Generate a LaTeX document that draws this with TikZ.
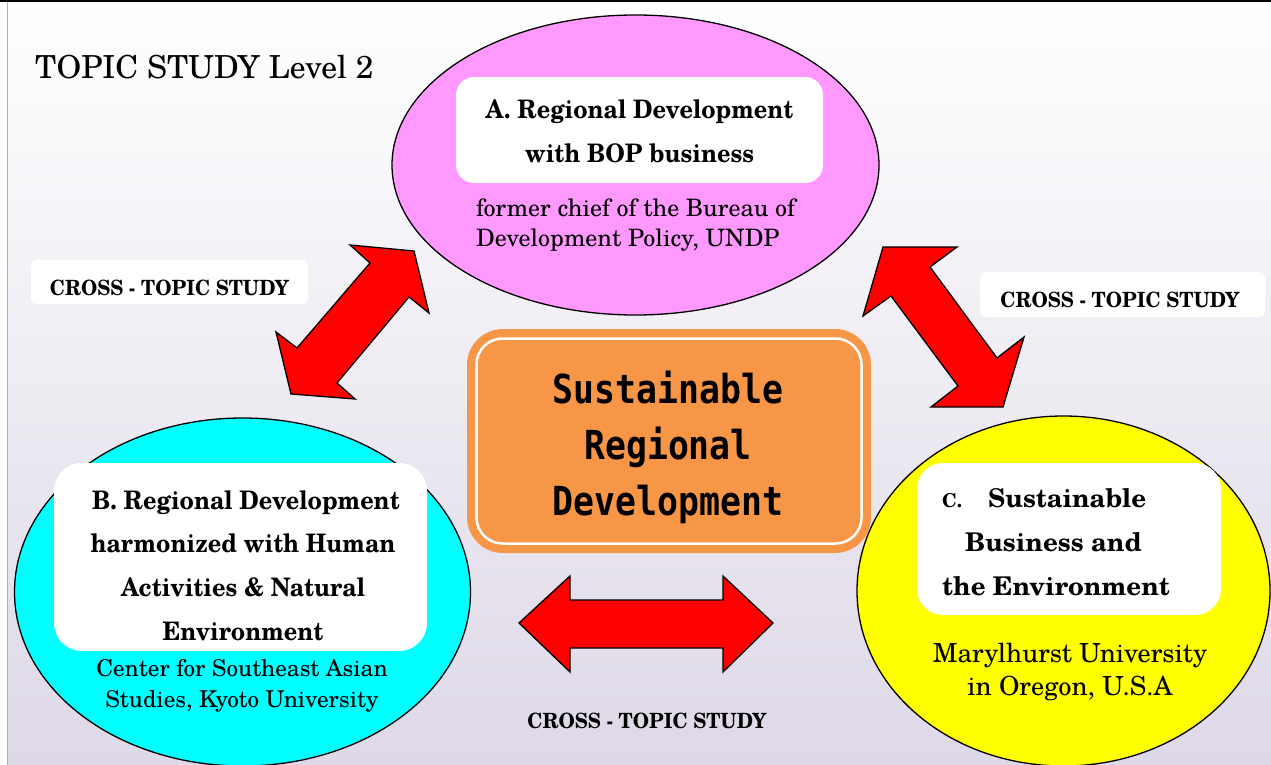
\documentclass[tikz,border=0pt]{standalone}
\usepackage{fontspec}
\setmainfont{texgyreschola}[Extension=.otf, UprightFont=*-regular, BoldFont=*-bold, ItalicFont=*-italic, BoldItalicFont=*-bolditalic]
\newfontfamily\headfont{texgyreschola}[Extension=.otf, UprightFont=*-bold, FakeStretch=0.92]
\newfontfamily\crossfont{texgyreschola}[Extension=.otf, UprightFont=*-bold, FakeStretch=0.93]
\newfontfamily\popfont{DejaVu Sans Mono}[FakeStretch=0.87]
\usetikzlibrary{shapes.geometric}
\definecolor{pinkA}{RGB}{255,153,255}
\definecolor{cyanB}{RGB}{0,255,255}
\definecolor{yellowC}{RGB}{255,255,0}
\definecolor{orangeF}{RGB}{247,150,70}
\definecolor{arrowred}{RGB}{255,0,0}
\definecolor{bgmid}{RGB}{246,245,249}
\definecolor{bgbot}{RGB}{222,216,231}
\definecolor{leftline}{RGB}{175,165,205}
\begin{document}
\begin{tikzpicture}[x=1pt,y=-1pt,
  blob/.style={ellipse, draw=black, line width=1.3pt, inner sep=0pt},
  wbox/.style={fill=white, inner sep=0pt},
  head/.style={font=\headfont\fontsize{25.5}{43.6}\selectfont, align=center, inner sep=0pt, anchor=base},
  sub/.style={inner sep=0pt, anchor=base},
  cross/.style={font=\crossfont\fontsize{21}{24}\selectfont, inner sep=0pt, anchor=base},
  crossbox/.style={fill=white, rounded corners=6pt, inner sep=0pt},
  bigarrow/.style={fill=arrowred, draw=black, line width=1.3pt, line join=miter}]
\useasboundingbox (0,0) rectangle (1271,765);
% background
\shade[top color=white, middle color=bgmid, bottom color=bgbot] (0,0) rectangle (1271,765);
\fill[white] (0,0) rectangle (7,765);
\draw[leftline, line width=1.5pt] (7.5,2) -- (7.5,765);
\draw[black, line width=2.5pt] (0,1.25) -- (1271,1.25);
% title
\node[anchor=base west, inner sep=0pt, font=\fontsize{31.7}{36}\selectfont] (title) at (35,79) {TOPIC STUDY Level 2};
% ellipses
\node[blob, fill=pinkA, minimum width=487pt, minimum height=300pt] (ellA) at (635.5,165) {};
\node[blob, fill=cyanB, minimum width=456pt, minimum height=348pt] (ellB) at (242.5,592) {};
\node[blob, fill=yellowC, minimum width=413pt, minimum height=350pt] (ellC) at (1063.5,591) {};
% white boxes
\node[wbox, rounded corners=18pt, minimum width=367pt, minimum height=106pt] (boxA) at (639.5,130) {};
\node[wbox, rounded corners=28pt, minimum width=373pt, minimum height=188pt] (boxB) at (240.5,557) {};
\node[wbox, rounded corners=26pt, minimum width=304pt, minimum height=152pt] (boxC) at (1069,539) {};
% headings (base = baseline of last line)
\node[head] (tA) at (639.5,162) {A. Regional Development\\with BOP business};
\node[head] (tB) at (243,640) {\hspace{6pt}B. Regional Development\\harmonized with Human\\Activities \& Natural\\Environment};
\node[head, align=left, anchor=base west, font=\bfseries\fontsize{25.8}{43.6}\selectfont] (tC) at (942,595) {\makebox[46pt][l]{\fontsize{19}{20}\selectfont C.}Sustainable\\\hspace{23pt}Business and\\the Environment};
% sub texts
\node[sub, align=left, anchor=base west, font=\fontsize{24}{30}\selectfont] (sA) at (476,246.7) {former chief of the Bureau of\\Development Policy, UNDP};
\node[sub, align=center, font=\fontsize{23.2}{31}\selectfont] (sB) at (242,707) {Center for Southeast Asian\\Studies, Kyoto University};
\node[sub, align=center, font=\fontsize{26.3}{33}\selectfont] (sC) at (1070,695) {Marylhurst University\\in Oregon, U.S.A};
% cross labels
\node[crossbox, minimum width=277pt, minimum height=44pt] (cbL) at (169.5,282) {};
\node[crossbox, minimum width=285pt, minimum height=45pt] (cbR) at (1122.5,294.5) {};
\node[cross] (cL) at (169.5,295) {CROSS - TOPIC STUDY};
\node[cross] (cR) at (1120,307) {CROSS - TOPIC STUDY};
\node[cross] (cB) at (647,728) {CROSS - TOPIC STUDY};
% block arrows
\draw[bigarrow] (414,251) -- (429,313) -- (409,297) -- (337,383) -- (355,399) -- (291,394) -- (276,332) -- (297,348) -- (370,263) -- (350,245) -- cycle;
\draw[bigarrow] (883,247) -- (957,247) -- (930,267) -- (997,358) -- (1024,337) -- (1003,407) -- (931,407) -- (958,386) -- (891,296) -- (863,316) -- cycle;
\draw[bigarrow] (519,623) -- (570,576) -- (570,600) -- (723,600) -- (723,576) -- (773,623) -- (723,672) -- (723,648) -- (570,648) -- (570,672) -- cycle;
% centre box
\node[rectangle, rounded corners=32pt, draw=orangeF, fill=orangeF, line width=8pt, minimum width=396pt, minimum height=216pt] (core) at (669,441) {};
\node[rectangle, rounded corners=26pt, draw=white, line width=2.5pt, minimum width=385pt, minimum height=205pt] (coreline) at (669,441) {};
\node[inner sep=0pt, anchor=base, align=center, font=\popfont\bfseries\fontsize{40}{56}\selectfont] (coretext) at (668,515) {Sustainable\\Regional\\Development};
\end{tikzpicture}
\end{document}
